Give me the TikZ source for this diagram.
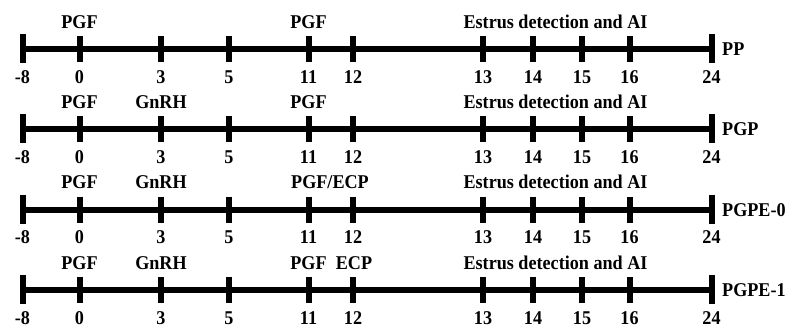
\documentclass[tikz,border=0pt]{standalone}
\usepackage{fontspec}
\setmainfont{Liberation Serif}[FakeStretch=0.93]
\begin{document}
\begin{tikzpicture}[x=1pt,y=-1pt,
  txt/.style={font=\fontsize{19.5}{21}\selectfont\bfseries, inner sep=0pt, anchor=base},
  axisline/.style={line width=6pt},
  tickmark/.style={line width=6pt},
  bigtick/.style={line width=6pt}]
\useasboundingbox (0,0) rectangle (788,327);
\foreach \r/\y/\nm in {1/49/PP, 2/129/PGP, 3/209.5/PGPE-0, 4/290/PGPE-1}{
  \foreach \d/\x in {m8/22.5, 24/711.5}{
    \coordinate (r\r-\d-top) at (\x,{\y-15});
    \coordinate (r\r-\d-bot) at (\x,{\y+14});
    \coordinate (r\r-\d) at (\x,\y);
    \draw[bigtick] (r\r-\d-top) -- (r\r-\d-bot);
  }
  \foreach \d/\x in {0/79.5, 3/161, 5/229, 11/308.5, 12/353, 13/483, 14/533, 15/582, 16/629.5}{
    \coordinate (r\r-\d-top) at (\x,{\y-13});
    \coordinate (r\r-\d-bot) at (\x,{\y+13});
    \coordinate (r\r-\d) at (\x,\y);
    \draw[tickmark] (r\r-\d-top) -- (r\r-\d-bot);
  }
  \draw[axisline] (r\r-m8) -- (r\r-24);
  \foreach \d/\x/\t in {m8/22.5/-8, 0/79.5/0, 3/161/3, 5/229/5, 11/308.5/11, 12/353/12, 13/483/13, 14/533/14, 15/582/15, 16/629.5/16, 24/711.5/24}{
    \node[txt] (n\r-\d) at (\x,{\y+34}) {\t};
  }
  \node[txt, anchor=base west] (name\r) at (722,{\y+6.5}) {\nm};
  \node[txt] (pgfa\r) at (79.5,{\y-21}) {PGF};
  \node[txt] (estrus\r) at (555.5,{\y-21}) {Estrus detection and AI};
}
\node[txt] (pgfb1) at (308.5,28) {PGF};
\node[txt] (gnrh2) at (161,108) {GnRH};
\node[txt] (pgfb2) at (308.5,108) {PGF};
\node[txt] (gnrh3) at (161,188.5) {GnRH};
\node[txt] (pgfecp3) at (330,188.5) {PGF/ECP};
\node[txt] (gnrh4) at (161,269) {GnRH};
\node[txt] (pgfb4) at (308.5,269) {PGF};
\node[txt] (ecp4) at (354,269) {ECP};
\end{tikzpicture}
\end{document}
